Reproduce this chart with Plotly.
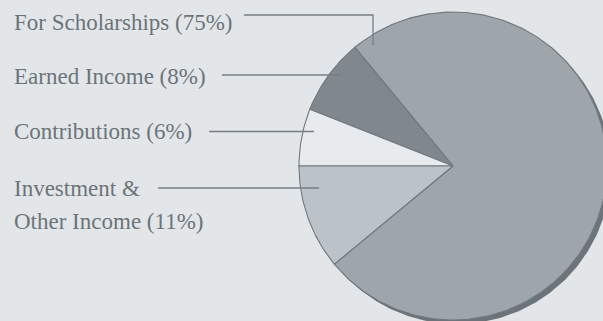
import numpy as np
import plotly.graph_objects as go

# Revenue breakdown
labels = ["For Scholarships", "Earned Income", "Contributions", "Investment & Other Income"]
values = [75, 8, 6, 11]
label_lines = [
    ["For Scholarships (75%)"],
    ["Earned Income (8%)"],
    ["Contributions (6%)"],
    ["Investment &", "Other Income (11%)"],
]

W, H = 603, 321
BG = "#e3e6e9"
slice_colors = ["#9ea5ab", "#80888e", "#e8ebee", "#bbc2c8"]
edge_color = "#6f787e"
shadow_color = "#6b747a"
text_color = "#6c7479"
line_color = "#767e84"
LABEL_FONT = "Liberation Serif, Times New Roman, DejaVu Serif, serif"

# pie geometry in pixel space (y grows downward)
cx, cy, r = 453, 166, 154
shadow_dx, shadow_dy = 4, 4

fig = go.Figure()


def arc(theta0, theta1, ox=0.0, oy=0.0, wedge=True):
    n = max(4, int(abs(theta1 - theta0) / 1.0))
    t = np.radians(np.linspace(theta0, theta1, n))
    xs = cx + ox + r * np.cos(t)
    ys = cy + oy - r * np.sin(t)
    if wedge:
        xs = np.concatenate([[cx + ox], xs, [cx + ox]])
        ys = np.concatenate([[cy + oy], ys, [cy + oy]])
    return xs, ys


# drop shadow behind the disc
sx, sy = arc(0, 360, shadow_dx, shadow_dy, wedge=False)
fig.add_trace(go.Scatter(x=sx, y=sy, mode="lines", fill="toself",
                         fillcolor=shadow_color, line=dict(width=0),
                         hoverinfo="skip", showlegend=False))

# slices run counter-clockwise; the Contributions / Investment boundary sits at 9 o'clock
total = float(sum(values))
start = 180.0 - 360.0 * sum(values[:3]) / total
angle = start
for lab, val, col in zip(labels, values, slice_colors):
    span = 360.0 * val / total
    xs, ys = arc(angle, angle + span)
    fig.add_trace(go.Scatter(x=xs, y=ys, mode="lines", fill="toself",
                             fillcolor=col, line=dict(color=edge_color, width=1.1),
                             name=lab, hoverinfo="name", showlegend=False))
    angle += span

# leader lines (label side -> into slice)
leaders = [
    [(244, 15), (373, 15), (373, 45)],
    [(222, 75), (340, 75)],
    [(209, 131.5), (314, 131.5)],
    [(158, 188), (319, 188)],
]
for pts in leaders:
    fig.add_trace(go.Scatter(x=[p[0] for p in pts], y=[p[1] for p in pts],
                             mode="lines", line=dict(color=line_color, width=1.3),
                             hoverinfo="skip", showlegend=False))

# label text, one annotation per line
label_y = [[22], [76], [131], [188, 221]]
for lines, ys in zip(label_lines, label_y):
    for txt, y in zip(lines, ys):
        fig.add_annotation(x=12, y=y, text=txt, showarrow=False,
                           xanchor="left", yanchor="middle", xref="x", yref="y",
                           font=dict(family=LABEL_FONT, size=23, color=text_color))

fig.update_layout(
    width=W, height=H,
    margin=dict(l=0, r=0, t=0, b=0),
    paper_bgcolor=BG, plot_bgcolor=BG,
    xaxis=dict(range=[0, W], visible=False, fixedrange=True),
    yaxis=dict(range=[H, 0], visible=False, fixedrange=True),
)

fig.write_html("out.html")
